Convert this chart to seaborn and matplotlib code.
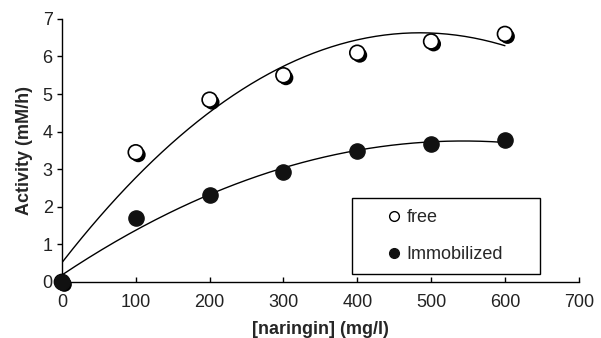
import numpy as np
import pandas as pd
import matplotlib
matplotlib.use("Agg")
import matplotlib.pyplot as plt
import matplotlib.patheffects as pe
from matplotlib.lines import Line2D
import seaborn as sns

# ---- data ----
naringin = [0, 100, 200, 300, 400, 500, 600]
free = [0.0, 3.45, 4.85, 5.50, 6.10, 6.40, 6.60]
immobilized = [0.0, 1.70, 2.30, 2.92, 3.49, 3.67, 3.78]
series_labels = ["free", "Immobilized"]
x_ticks = [0, 100, 200, 300, 400, 500, 600, 700]
y_ticks = [0, 1, 2, 3, 4, 5, 6, 7]

sns.set_theme(style="ticks")
plt.rcParams["font.family"] = ["Liberation Sans", "DejaVu Sans"]

fig = plt.figure(figsize=(6.01, 3.38), dpi=100)
ax = fig.add_axes([0.103, 0.166, 0.860, 0.778])

# polynomial trend lines (order 2) fitted to the data
xs = np.linspace(0, 600, 200)
for vals in (free, immobilized):
    coef = np.polyfit(naringin, vals, 2)
    sns.lineplot(x=xs, y=np.polyval(coef, xs), ax=ax, color="black",
                 linewidth=1.0, zorder=2)

shadow = [pe.SimplePatchShadow(offset=(1.8, -1.8), shadow_rgbFace="black", alpha=1.0),
          pe.Normal()]

sns.scatterplot(x=naringin, y=free, ax=ax, s=115, color="white",
                edgecolor="black", linewidth=1.2, zorder=3, clip_on=False)
ax.collections[-1].set_path_effects(shadow)
sns.scatterplot(x=naringin, y=immobilized, ax=ax, s=120, color="#111111",
                edgecolor="#111111", linewidth=1.0, zorder=4, clip_on=False)

ax.set_xlim(0, 700)
ax.set_ylim(0, 7)
ax.set_xticks(x_ticks)
ax.set_yticks(y_ticks)
ax.tick_params(axis="y", direction="out", length=3.6, width=1,
               color="black", labelsize=13, labelcolor="#222222", pad=3)
ax.tick_params(axis="x", direction="in", length=3.6, width=1,
               color="black", labelsize=13, labelcolor="#222222", pad=9)
sns.despine(ax=ax)
for s in ("left", "bottom"):
    ax.spines[s].set_color("black")
    ax.spines[s].set_linewidth(1.0)

ax.set_xlabel("[naringin] (mg/l)", fontsize=13, fontweight="bold", labelpad=7)
ax.set_ylabel("Activity (mM/h)", fontsize=13, fontweight="bold", labelpad=7)

handles = [
    Line2D([], [], linestyle="none", marker="o", markersize=7,
           markerfacecolor="white", markeredgecolor="black", markeredgewidth=1.0),
    Line2D([], [], linestyle="none", marker="o", markersize=7,
           markerfacecolor="#111111", markeredgecolor="#111111"),
]
leg = fig.legend(handles, series_labels, loc="lower left",
                 bbox_to_anchor=(0.586, 0.189, 0.313, 0.222), mode="expand",
                 fontsize=13, frameon=True, fancybox=False, edgecolor="black",
                 framealpha=1, borderpad=0.62, labelspacing=1.08,
                 handlelength=3.4, handletextpad=-1.0, borderaxespad=0)
leg.get_frame().set_linewidth(1.0)

fig.savefig("out.png", dpi=100)
